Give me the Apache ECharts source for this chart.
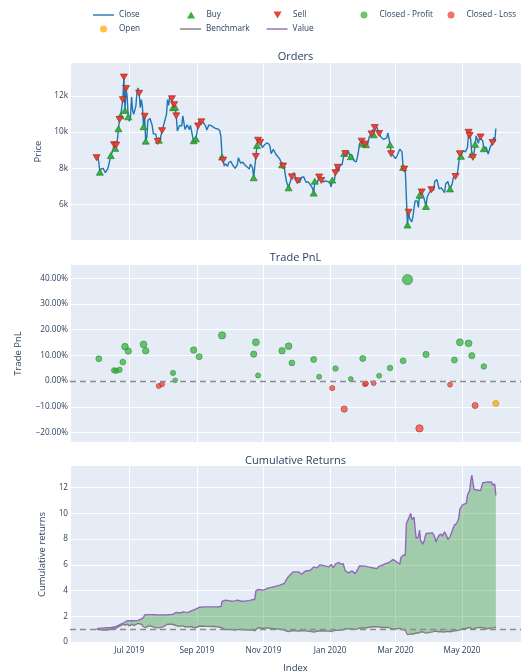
<!DOCTYPE html>
<html><head><meta charset="utf-8">
<script src="https://cdn.jsdelivr.net/npm/echarts@6/dist/echarts.min.js"></script>
<style>html,body{margin:0;padding:0;background:#fff}#c{width:521px;height:672px}</style>
</head><body><div id="c"></div>
<script>
// ---------- DATA ----------
const closeDates = ['2019-06-01','2019-06-02','2019-06-03','2019-06-04','2019-06-05','2019-06-07','2019-06-09','2019-06-11','2019-06-12','2019-06-14','2019-06-16','2019-06-17','2019-06-18','2019-06-19','2019-06-20','2019-06-21','2019-06-22','2019-06-23','2019-06-24','2019-06-25','2019-06-26','2019-06-27','2019-06-28','2019-06-29','2019-06-30',
'2019-07-01','2019-07-02','2019-07-03','2019-07-04','2019-07-05','2019-07-07','2019-07-08','2019-07-09','2019-07-10','2019-07-11','2019-07-12','2019-07-13','2019-07-14','2019-07-15','2019-07-16','2019-07-17','2019-07-18','2019-07-20','2019-07-22','2019-07-23','2019-07-25','2019-07-27','2019-07-28','2019-07-29','2019-07-31',
'2019-08-02','2019-08-04','2019-08-05','2019-08-06','2019-08-07','2019-08-08','2019-08-09','2019-08-10','2019-08-11','2019-08-12','2019-08-13','2019-08-14','2019-08-16','2019-08-18','2019-08-19','2019-08-21','2019-08-23','2019-08-25','2019-08-26','2019-08-28','2019-08-29','2019-08-31',
'2019-09-02','2019-09-03','2019-09-05','2019-09-07','2019-09-09','2019-09-10','2019-09-12','2019-09-14','2019-09-16','2019-09-18','2019-09-20','2019-09-22','2019-09-23','2019-09-24','2019-09-25','2019-09-26','2019-09-27','2019-09-29','2019-09-30',
'2019-10-02','2019-10-04','2019-10-06','2019-10-08','2019-10-09','2019-10-11','2019-10-13','2019-10-15','2019-10-17','2019-10-19','2019-10-20','2019-10-22','2019-10-23','2019-10-24','2019-10-25','2019-10-26','2019-10-27','2019-10-29','2019-10-31',
'2019-11-02','2019-11-04','2019-11-06','2019-11-07','2019-11-08','2019-11-10','2019-11-12','2019-11-14','2019-11-16','2019-11-18','2019-11-19','2019-11-20','2019-11-21','2019-11-22','2019-11-24','2019-11-25','2019-11-27','2019-11-29','2019-11-30',
'2019-12-02','2019-12-04','2019-12-06','2019-12-08','2019-12-10','2019-12-12','2019-12-14','2019-12-16','2019-12-17','2019-12-18','2019-12-20','2019-12-22','2019-12-24','2019-12-26','2019-12-28','2019-12-30',
'2020-01-01','2020-01-02','2020-01-03','2020-01-05','2020-01-06','2020-01-07','2020-01-08','2020-01-09','2020-01-10','2020-01-12','2020-01-14','2020-01-15','2020-01-16','2020-01-18','2020-01-19','2020-01-20','2020-01-21','2020-01-23','2020-01-25','2020-01-26','2020-01-27','2020-01-28','2020-01-30','2020-01-31',
'2020-02-01','2020-02-02','2020-02-03','2020-02-04','2020-02-06','2020-02-08','2020-02-09','2020-02-10','2020-02-11','2020-02-12','2020-02-13','2020-02-15','2020-02-16','2020-02-17','2020-02-19','2020-02-20','2020-02-22','2020-02-23','2020-02-24','2020-02-25','2020-02-26','2020-02-28',
'2020-03-01','2020-03-03','2020-03-05','2020-03-06','2020-03-07','2020-03-08','2020-03-09','2020-03-10','2020-03-11','2020-03-12','2020-03-13','2020-03-14','2020-03-16','2020-03-17','2020-03-19','2020-03-20','2020-03-21','2020-03-22','2020-03-23','2020-03-24','2020-03-25','2020-03-27','2020-03-28','2020-03-29','2020-03-30',
'2020-04-01','2020-04-03','2020-04-05','2020-04-06','2020-04-07','2020-04-08','2020-04-10','2020-04-12','2020-04-13','2020-04-15','2020-04-16','2020-04-18','2020-04-20','2020-04-22','2020-04-23','2020-04-25','2020-04-27','2020-04-28','2020-04-29','2020-04-30',
'2020-05-02','2020-05-04','2020-05-05','2020-05-06','2020-05-07','2020-05-08','2020-05-09','2020-05-10','2020-05-11','2020-05-12','2020-05-13','2020-05-14','2020-05-16','2020-05-17','2020-05-18','2020-05-20','2020-05-21','2020-05-23','2020-05-25','2020-05-26','2020-05-27','2020-05-29','2020-05-30','2020-05-31','2020-06-01'];
const closePrices = [8580,8750,8300,7780,7960,7990,7750,7950,8150,8700,8990,9300,9100,9280,9550,10180,10700,10900,11000,11800,13050,11200,12420,11950,10850,
10600,10800,11950,11200,10980,11450,12250,12450,12150,11350,11800,11400,10300,10880,9500,9700,10650,10750,10350,9900,9900,9480,9550,9520,10080,
10520,10970,11800,11480,11940,11960,11850,11350,11520,11380,10900,10060,10370,10340,10900,10150,10400,10140,10370,9760,9520,9630,
10340,10620,10570,10520,10330,10120,10400,10360,10280,10200,10180,10070,9730,8620,8450,8120,8250,8100,8300,
8380,8150,7990,8200,8580,8280,8330,8170,8070,7960,8230,8020,7470,7500,8650,9260,9550,9430,9150,
9300,9400,9330,9200,8800,9050,8800,8650,8500,8180,8120,8080,7620,7280,6910,7150,7520,7750,7550,
7300,7200,7500,7510,7220,7240,7080,6880,6620,7280,7150,7510,7320,7240,7300,7250,
7200,6960,7340,7350,7750,8150,8050,7820,8190,8190,8820,8810,8710,8920,8700,8640,8740,8400,8350,8600,8900,9360,9500,9350,
9390,9340,9300,9180,9750,9900,10150,9850,10250,10350,10250,9920,9940,9700,9600,9610,9680,9960,9670,9300,8800,8700,
8530,8760,9060,9120,8900,8040,7950,7900,7900,4850,5560,5200,5030,5330,6190,6200,6190,5830,6500,6770,6680,6370,6260,5880,6390,
6640,6810,6780,7270,7200,7370,6860,6910,6860,6640,7120,7260,6850,7130,7480,7540,7790,7790,8800,8660,
8980,8900,9030,9150,9990,9810,9590,8760,8600,8820,9320,9790,9380,9680,9730,9520,9080,9170,8790,8900,9200,9420,9700,9450,10200];

const buyDates = ['2019-06-04','2019-06-14','2019-06-18','2019-06-21','2019-06-23','2019-06-27','2019-06-30','2019-07-14','2019-07-16','2019-07-28','2019-08-10','2019-08-12','2019-08-29','2019-08-31','2019-09-24','2019-10-23','2019-10-26','2019-11-18','2019-11-24','2019-12-17','2019-12-18','2020-01-03','2020-01-14','2020-01-20','2020-01-31','2020-02-03','2020-02-10','2020-02-25','2020-03-08','2020-03-12','2020-03-23','2020-03-29','2020-04-20','2020-04-30','2020-05-10','2020-05-13','2020-05-21'];
const buyPrices = [7780,8700,9100,10180,10900,11200,10850,10300,9500,9550,11350,11380,9520,9630,8620,7470,9260,8180,6910,6620,7280,7340,8820,8640,9350,9300,9850,9300,8040,4850,6500,5880,6850,8660,8760,9320,9080];

const sellDates = ['2019-06-01','2019-06-17','2019-06-19','2019-06-22','2019-06-25','2019-06-26','2019-06-28','2019-07-10','2019-07-15','2019-07-27','2019-07-31','2019-08-09','2019-08-11','2019-08-13','2019-09-02','2019-09-05','2019-09-25','2019-10-25','2019-10-27','2019-10-29','2019-11-19','2019-11-27','2019-12-02','2019-12-22','2019-12-24','2020-01-06','2020-01-08','2020-01-15','2020-01-30','2020-02-02','2020-02-08','2020-02-11','2020-02-15','2020-02-26','2020-03-09','2020-03-13','2020-03-25','2020-04-03','2020-04-25','2020-04-29','2020-05-07','2020-05-08','2020-05-11','2020-05-18','2020-05-29'];
const sellPrices = [8580,9300,9280,10700,11800,13050,12420,12150,10880,9480,10080,11850,11520,10900,10340,10570,8450,8650,9550,9430,8120,7520,7300,7510,7320,7750,8050,8810,9500,9340,9900,10250,9920,8800,7950,5560,6680,6810,7540,8800,9990,9810,8600,9730,9420];

const profitDates = ['2019-06-03','2019-06-17','2019-06-19','2019-06-22','2019-06-25','2019-06-27','2019-06-30','2019-07-14','2019-07-16','2019-08-10','2019-08-12','2019-08-29','2019-09-03','2019-09-24','2019-10-23','2019-10-25','2019-10-27','2019-11-18','2019-11-24','2019-11-27','2019-12-17','2019-12-22','2020-01-06','2020-01-20','2020-01-31','2020-02-15','2020-02-25','2020-03-08','2020-03-12','2020-03-29','2020-04-24','2020-04-29','2020-05-07','2020-05-10','2020-05-21'];
const profitPnl = [8.7,4.2,4.0,4.4,7.4,13.4,11.7,14.3,11.8,3.2,0.3,12.1,9.5,17.8,10.5,15.1,2.2,11.8,13.6,7.1,8.4,1.7,4.9,0.8,8.8,2.1,5.1,7.9,39.5,10.4,8.2,15.1,14.7,9.9,5.7];
const lossDates = ['2019-07-28','2019-07-31','2020-01-03','2020-01-14','2020-02-02','2020-02-03','2020-02-10','2020-03-23','2020-04-20','2020-05-13'];
const lossPnl = [-1.9,-1.2,-2.7,-10.9,-1.2,-0.9,-0.8,-18.4,-1.4,-9.5];
const openDates = ['2020-06-01'];
const openPnl = [-8.7];

const returnDates = ['2019-06-01','2019-06-03','2019-06-04','2019-06-08','2019-06-11','2019-06-14','2019-06-17','2019-06-19','2019-06-21','2019-06-23','2019-06-25','2019-06-26','2019-06-27','2019-06-28','2019-06-29',
'2019-07-01','2019-07-03','2019-07-05','2019-07-09','2019-07-12','2019-07-14','2019-07-15','2019-07-16','2019-07-18','2019-07-21','2019-07-24','2019-07-27','2019-07-30',
'2019-08-02','2019-08-05','2019-08-07','2019-08-09','2019-08-11','2019-08-13','2019-08-14','2019-08-16','2019-08-19','2019-08-21','2019-08-24','2019-08-27','2019-08-29',
'2019-09-01','2019-09-03','2019-09-08','2019-09-12','2019-09-16','2019-09-20','2019-09-23','2019-09-24','2019-09-27','2019-09-30',
'2019-10-03','2019-10-06','2019-10-08','2019-10-09','2019-10-12','2019-10-15','2019-10-19','2019-10-22','2019-10-24','2019-10-25','2019-10-27',
'2019-11-01','2019-11-04','2019-11-07','2019-11-11','2019-11-16','2019-11-20','2019-11-22','2019-11-24','2019-11-28',
'2019-12-03','2019-12-06','2019-12-09','2019-12-14','2019-12-17','2019-12-20','2019-12-23','2019-12-28','2019-12-31',
'2020-01-02','2020-01-04','2020-01-06','2020-01-09','2020-01-11','2020-01-13','2020-01-15','2020-01-18','2020-01-21','2020-01-24','2020-01-26','2020-01-28',
'2020-02-02','2020-02-05','2020-02-09','2020-02-13','2020-02-15','2020-02-18','2020-02-21','2020-02-24','2020-02-26','2020-02-28',
'2020-03-02','2020-03-05','2020-03-06','2020-03-08','2020-03-10','2020-03-11','2020-03-12','2020-03-13','2020-03-15','2020-03-16','2020-03-18','2020-03-19','2020-03-20','2020-03-22','2020-03-23','2020-03-24','2020-03-26','2020-03-27','2020-03-29','2020-03-30',
'2020-04-04','2020-04-06','2020-04-07','2020-04-10','2020-04-12','2020-04-13','2020-04-15','2020-04-17','2020-04-18','2020-04-20','2020-04-22','2020-04-24','2020-04-26','2020-04-28','2020-04-29',
'2020-05-01','2020-05-03','2020-05-05','2020-05-06','2020-05-08','2020-05-09','2020-05-10','2020-05-11','2020-05-12','2020-05-15','2020-05-18','2020-05-20','2020-05-24','2020-05-28','2020-05-29','2020-05-31','2020-06-01'];
const valueReturns = [1.00,1.06,1.09,1.10,1.11,1.12,1.16,1.22,1.30,1.38,1.45,1.50,1.55,1.60,1.65,
1.65,1.65,1.65,1.68,1.80,1.90,2.10,2.13,2.13,2.13,2.12,2.11,2.10,
2.11,2.12,2.13,2.13,2.20,2.30,2.30,2.25,2.34,2.32,2.30,2.42,2.50,
2.60,2.70,2.73,2.73,2.73,2.74,2.75,3.15,3.25,3.22,
3.17,3.20,3.25,3.12,3.17,3.19,3.22,3.30,3.30,3.97,4.08,
4.03,4.16,4.23,4.30,4.42,4.55,4.85,5.10,5.45,
5.45,5.27,5.50,5.58,5.84,5.77,6.00,5.90,5.84,
6.03,5.79,6.05,6.20,6.05,6.10,5.53,5.38,5.53,5.32,5.58,5.92,
5.90,5.84,5.77,5.71,5.90,5.97,6.10,6.18,6.31,6.42,
6.23,6.05,6.57,6.75,6.75,9.22,9.40,9.61,10.00,9.53,9.70,8.83,8.05,8.18,8.70,7.92,7.61,7.79,8.44,8.49,
8.49,8.18,7.79,8.31,8.39,8.23,8.57,8.23,7.97,8.18,8.65,9.09,9.22,9.61,10.31,
10.62,10.73,10.78,11.43,11.77,12.47,12.99,12.86,11.87,11.82,11.77,12.39,12.44,12.44,12.21,12.29,11.40];
const benchmarkReturns = [1.00,0.97,0.91,0.93,0.93,1.01,1.08,1.08,1.19,1.27,1.38,1.50,1.31,1.45,1.39,
1.24,1.39,1.28,1.45,1.38,1.20,1.27,1.11,1.24,1.24,1.14,1.10,1.12,
1.23,1.38,1.39,1.38,1.34,1.27,1.17,1.21,1.27,1.18,1.18,1.19,1.11,
1.14,1.24,1.22,1.21,1.20,1.19,1.13,1.00,0.96,0.97,
0.96,0.93,0.96,1.00,0.97,0.95,0.93,0.94,0.87,1.01,1.11,
1.07,1.10,1.07,1.04,0.99,0.94,0.85,0.81,0.88,
0.85,0.87,0.86,0.83,0.77,0.83,0.87,0.85,0.84,
0.81,0.86,0.90,0.91,0.95,0.95,1.03,1.04,1.02,0.98,1.00,1.09,
1.09,1.13,1.18,1.19,1.16,1.13,1.13,1.13,1.03,1.01,
1.02,1.06,1.06,0.94,0.92,0.92,0.57,0.65,0.62,0.59,0.62,0.72,0.72,0.68,0.75,0.79,0.78,0.74,0.69,0.74,
0.79,0.85,0.84,0.80,0.81,0.80,0.77,0.83,0.85,0.80,0.83,0.87,0.89,0.91,1.03,
1.03,1.05,1.05,1.07,1.14,1.12,1.02,1.00,1.03,1.12,1.13,1.11,1.03,1.10,1.10,1.10,1.19];

const monthNames = ['Jan','Feb','Mar','Apr','May','Jun','Jul','Aug','Sep','Oct','Nov','Dec'];

// ---------- CHART ----------
const FONT = '"Open Sans", verdana, arial, sans-serif';
const TXT = '#2a3f5f';
const zip = (a, b) => a.map((d, i) => [d, b[i]]);
const X_MIN = new Date(2019, 4, 7, 14).getTime();
const X_MAX = new Date(2020, 5, 24, 2).getTime();

function xAxisFor(i, showLabels) {
  return {
    type: 'time', gridIndex: i, min: X_MIN, max: X_MAX, splitNumber: 6,
    axisLine: {show: false}, axisTick: {show: false},
    splitLine: {show: true, lineStyle: {color: '#ffffff', width: 1}},
    axisLabel: {show: showLabels, color: TXT, fontSize: 8.2, fontFamily: FONT, margin: 4, hideOverlap: false,
      formatter: v => { const d = new Date(v); return monthNames[d.getMonth()] + ' ' + d.getFullYear(); }},
    name: showLabels ? 'Index' : '', nameLocation: 'middle', nameGap: 20,
    nameTextStyle: {color: TXT, fontSize: 9.5, fontFamily: FONT}
  };
}
function yAxisFor(i, o) {
  return Object.assign({
    type: 'value', gridIndex: i, nameLocation: 'middle', scale: false,
    axisLine: {show: false}, axisTick: {show: false},
    splitLine: {show: true, showMinLine: false, showMaxLine: false, lineStyle: {color: '#ffffff', width: 1}},
    nameTextStyle: {color: TXT, fontSize: 9.5, fontFamily: FONT}
  }, o);
}
const labelBase = {color: TXT, fontSize: 8.2, fontFamily: FONT, margin: 2, showMinLabel: false, showMaxLabel: false};

const legendBase = {orient: 'horizontal', padding: 0, itemWidth: 21, itemHeight: 7, selectedMode: false,
  textStyle: {fontSize: 8.2, color: TXT, fontFamily: FONT}};
const leg = (left, top, data) => Object.assign({}, legendBase, {left, top, data});
const LINE_ICON = 'path://M0,0H21V1.4H0Z';

const gridBase = {left: 70, right: 0, height: 177, show: true, backgroundColor: '#E5ECF6', borderWidth: 0, containLabel: false, outerBoundsMode: 'none'};

const pnlSize = v => 4.8 + Math.abs(v[1]) * 0.14;
const titleStyle = {fontSize: 11, fontWeight: 'normal', color: TXT, fontFamily: FONT};

const option = {
  animation: false,
  backgroundColor: '#ffffff',
  textStyle: {fontFamily: FONT},
  title: [
    {text: 'Orders', left: 295.5, top: 51, textAlign: 'center', padding: 0, textStyle: titleStyle},
    {text: 'Trade PnL', left: 295.5, top: 252, textAlign: 'center', padding: 0, textStyle: titleStyle},
    {text: 'Cumulative Returns', left: 295.5, top: 455, textAlign: 'center', padding: 0, textStyle: titleStyle}
  ],
  legend: [
    leg(93, 11, [{name: 'Close', icon: LINE_ICON}]),
    leg(187, 11, [{name: 'Buy', icon: 'path://M5,0L10,8.66L0,8.66Z', itemStyle: {borderWidth: 0}}]),
    leg(273.5, 11, [{name: 'Sell', icon: 'path://M0,0L10,0L5,8.66Z', itemStyle: {borderWidth: 0}}]),
    leg(360.5, 11, [{name: 'Closed - Profit', icon: 'circle', itemStyle: {borderWidth: 0}}]),
    leg(447.5, 11, [{name: 'Closed - Loss', icon: 'circle', itemStyle: {borderWidth: 0}}]),
    leg(100, 25, [{name: 'Open', icon: 'circle', itemStyle: {borderWidth: 0}}]),
    leg(180, 25, [{name: 'Benchmark', icon: LINE_ICON}]),
    leg(266.5, 25, [{name: 'Value', icon: LINE_ICON}])
  ],
  grid: [
    Object.assign({top: 63}, gridBase),
    Object.assign({top: 265}, gridBase),
    Object.assign({top: 466}, gridBase)
  ],
  xAxis: [xAxisFor(0, false), xAxisFor(1, false), xAxisFor(2, true)],
  yAxis: [
    yAxisFor(0, {min: 4020, max: 13830, name: 'Price', nameGap: 27,
      axisLabel: Object.assign({}, labelBase, {formatter: v => (v / 1000) + 'k'})}),
    yAxisFor(1, {min: -23.7, max: 45.2, name: 'Trade PnL', nameGap: 47,
      axisLabel: Object.assign({}, labelBase, {formatter: v => (v < 0 ? '\u2212' : '') + Math.abs(v).toFixed(2) + '%'})}),
    yAxisFor(2, {min: -0.08, max: 13.69, splitNumber: 7, name: 'Cumulative returns', nameGap: 22,
      axisLabel: Object.assign({}, labelBase, {formatter: v => String(v)})})
  ],
  series: [
    {name: 'Close', type: 'line', xAxisIndex: 0, yAxisIndex: 0, data: zip(closeDates, closePrices),
      symbol: 'none', lineStyle: {color: '#1f77b4', width: 1.4}, itemStyle: {color: '#1f77b4'}, z: 2},
    {name: 'Buy', type: 'scatter', xAxisIndex: 0, yAxisIndex: 0, data: zip(buyDates, buyPrices),
      symbol: 'triangle', symbolSize: [7, 6],
      itemStyle: {color: '#37B13F', borderColor: '#27812d', borderWidth: 0.7, opacity: 1}, z: 4},
    {name: 'Sell', type: 'scatter', xAxisIndex: 0, yAxisIndex: 0, data: zip(sellDates, sellPrices),
      symbol: 'triangle', symbolRotate: 180, symbolSize: [7, 6],
      itemStyle: {color: '#EA4335', borderColor: '#a8281c', borderWidth: 0.7, opacity: 1}, z: 5},
    {name: 'Closed - Profit', type: 'scatter', xAxisIndex: 1, yAxisIndex: 1, data: zip(profitDates, profitPnl),
      symbol: 'circle', symbolSize: pnlSize,
      itemStyle: {color: 'rgba(55,177,63,0.92)', borderColor: '#2a8c31', borderWidth: 0.7}, z: 4,
      markLine: {silent: true, symbol: 'none', label: {show: false}, animation: false,
        lineStyle: {color: '#8c8c8c', type: [6, 4], width: 1.4}, data: [{yAxis: 0}]}},
    {name: 'Closed - Loss', type: 'scatter', xAxisIndex: 1, yAxisIndex: 1, data: zip(lossDates, lossPnl),
      symbol: 'circle', symbolSize: pnlSize,
      itemStyle: {color: 'rgba(234,67,53,0.92)', borderColor: '#b0281d', borderWidth: 0.7}, z: 4},
    {name: 'Open', type: 'scatter', xAxisIndex: 1, yAxisIndex: 1, data: zip(openDates, openPnl),
      symbol: 'circle', symbolSize: pnlSize,
      itemStyle: {color: 'rgba(255,170,0,0.92)', borderColor: '#c98600', borderWidth: 0.7}, z: 4},
    {name: 'fillBase', type: 'line', xAxisIndex: 2, yAxisIndex: 2, stack: 'fill', silent: true,
      data: zip(returnDates, benchmarkReturns), symbol: 'none', lineStyle: {opacity: 0, width: 0}, z: 1},
    {name: 'fillDiff', type: 'line', xAxisIndex: 2, yAxisIndex: 2, stack: 'fill', silent: true,
      data: returnDates.map((d, i) => [d, valueReturns[i] - benchmarkReturns[i]]), symbol: 'none',
      lineStyle: {opacity: 0, width: 0}, areaStyle: {color: 'rgba(0,128,0,0.3)', opacity: 1}, z: 1},
    {name: 'Benchmark', type: 'line', xAxisIndex: 2, yAxisIndex: 2, data: zip(returnDates, benchmarkReturns),
      symbol: 'none', lineStyle: {color: '#7f7f7f', width: 1.4}, itemStyle: {color: '#7f7f7f'}, z: 3,
      markLine: {silent: true, symbol: 'none', label: {show: false}, animation: false,
        lineStyle: {color: '#8c8c8c', type: [6, 4], width: 1.4}, data: [{yAxis: 1}]}},
    {name: 'Value', type: 'line', xAxisIndex: 2, yAxisIndex: 2, data: zip(returnDates, valueReturns),
      symbol: 'none', lineStyle: {color: '#9467bd', width: 1.4}, itemStyle: {color: '#9467bd'}, z: 4}
  ]
};
const chart = echarts.init(document.getElementById('c'), null, {renderer: 'canvas'});
chart.setOption(option);
</script>
</body></html>
